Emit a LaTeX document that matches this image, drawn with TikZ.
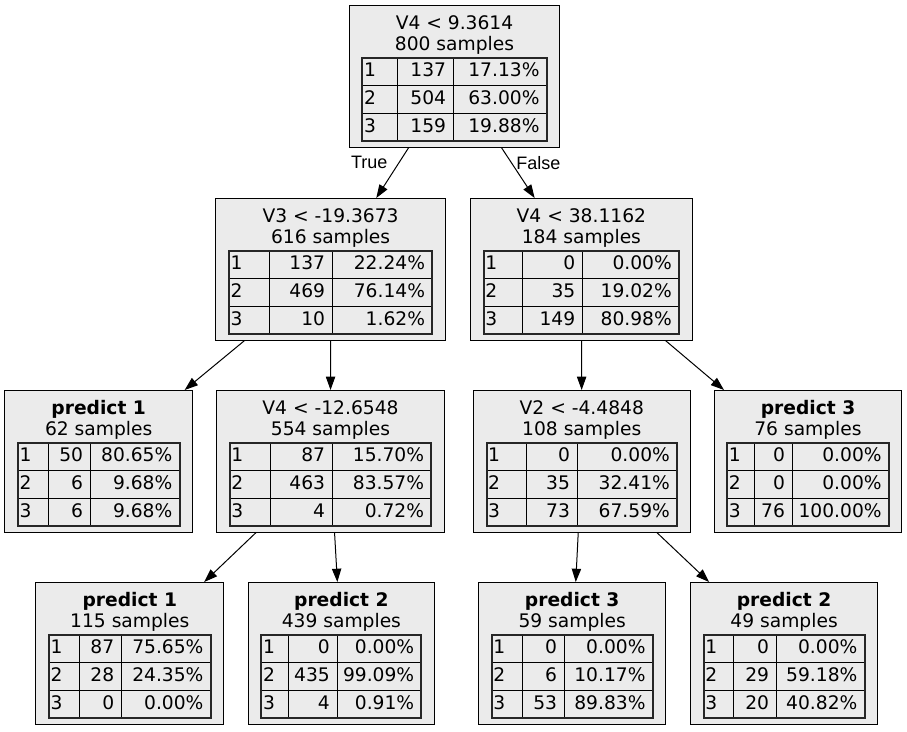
\documentclass[tikz,border=0pt]{standalone}
\usepackage{fontspec}
\setmainfont{DejaVu Sans}
\newfontfamily\edgefont{Liberation Sans}
\usetikzlibrary{arrows.meta}
\definecolor{boxfill}{HTML}{EBEBEB}

\tikzset{
  treebox/.style={draw=black, fill=boxfill, line width=1pt, inner sep=0pt, outer sep=0pt},
  celltext/.style={inner sep=0pt, font=\fontsize{18.67}{22}\selectfont},
  tabframe/.style={draw=black!85, line width=2pt},
  tabrule/.style={draw=black, line width=1pt},
  split/.style={draw=black, line width=1pt, -{Triangle[length=13.3pt,width=9.3pt]}},
  branchlabel/.style={inner sep=0pt, font=\edgefont\fontsize{18}{21}\selectfont}
}

% #1 name, #2 centre x, #3 top y, #4 test line, #5 sample count line,
% #6-#8 column widths of the class table, #9 rows class/count/share
\newcommand\dtnode[9]{%
  \pgfmathsetmacro\dtW{#6+#7+#8}%
  \pgfmathsetmacro\dtL{#2-\dtW/2}%
  \pgfmathsetmacro\dtA{\dtL+#6}%
  \pgfmathsetmacro\dtB{\dtA+#7}%
  \pgfmathsetmacro\dtR{\dtB+#8}%
  \pgfmathsetmacro\dtT{#3+52.5}%
  \pgfmathsetmacro\dtBot{\dtT+3*27.8}%
  \pgfmathsetmacro\dtBoxW{\dtW+26}%
  \node[treebox, minimum width=\dtBoxW pt, minimum height=142.5pt] (#1) at (#2,#3+71.25) {};
  \node[celltext, anchor=base] at (#2,#3+24) {#4};
  \node[celltext, anchor=base] at (#2,#3+45) {#5};
  \foreach \ca/\cb/\cc [count=\ci] in {#9} {
    \pgfmathsetmacro\dtY{\dtT+(\ci-1)*27.8+19}
    \node[celltext, anchor=base west] at (\dtL+1.5,\dtY) {\ca};
    \node[celltext, anchor=base east] at (\dtB-7,\dtY) {\cb};
    \node[celltext, anchor=base east] at (\dtR-7,\dtY) {\cc};
  }
  \draw[tabrule] (\dtA,\dtT) -- (\dtA,\dtBot) (\dtB,\dtT) -- (\dtB,\dtBot)
    (\dtL,\dtT+27.8) -- (\dtR,\dtT+27.8) (\dtL,\dtT+55.6) -- (\dtR,\dtT+55.6);
  \draw[tabframe] (\dtL,\dtT) rectangle (\dtR,\dtBot);
}

\begin{document}
\begin{tikzpicture}[x=1pt,y=-1pt]
\useasboundingbox (0,0) rectangle (907,731);

% level 0
\dtnode{root}{454.5}{5}{V4 < 9.3614}{800 samples}{35}{56}{93.4}
  {1/137/17.13\%,2/504/63.00\%,3/159/19.88\%}

% level 1
\dtnode{vthree}{330.6}{198}{V3 < -19.3673}{616 samples}{40.3}{63}{100}
  {1/137/22.24\%,2/469/76.14\%,3/10/1.62\%}
\dtnode{vfourhi}{581.4}{198}{V4 < 38.1162}{184 samples}{38.7}{60}{96.6}
  {1/0/0.00\%,2/35/19.02\%,3/149/80.98\%}

% level 2
\dtnode{leafa}{98.7}{390}{\bfseries predict 1}{62 samples}{31}{41.4}{89.3}
  {1/50/80.65\%,2/6/9.68\%,3/6/9.68\%}
\dtnode{vfourlo}{330.5}{390}{V4 < -12.6548}{554 samples}{40.3}{62.3}{99}
  {1/87/15.70\%,2/463/83.57\%,3/4/0.72\%}
\dtnode{vtwo}{581.8}{390}{V2 < -4.4848}{108 samples}{40}{50.6}{100}
  {1/0/0.00\%,2/35/32.41\%,3/73/67.59\%}
\dtnode{leafb}{808}{390}{\bfseries predict 3}{76 samples}{27}{38}{96.7}
  {1/0/0.00\%,2/0/0.00\%,3/76/100.00\%}

% level 3
\dtnode{leafc}{129.8}{582}{\bfseries predict 1}{115 samples}{30.7}{41.7}{89.3}
  {1/87/75.65\%,2/28/24.35\%,3/0/0.00\%}
\dtnode{leafd}{341.4}{582}{\bfseries predict 2}{439 samples}{26.6}{49}{84.4}
  {1/0/0.00\%,2/435/99.09\%,3/4/0.91\%}
\dtnode{leafe}{572.2}{582}{\bfseries predict 3}{59 samples}{30.6}{42}{88.4}
  {1/0/0.00\%,2/6/10.17\%,3/53/89.83\%}
\dtnode{leaff}{784.1}{582}{\bfseries predict 2}{49 samples}{30.3}{42.4}{88.3}
  {1/0/0.00\%,2/29/59.18\%,3/20/40.82\%}

% splits
\draw[split] (root) -- node[pos=0.3, branchlabel, left=11pt] {True} (vthree);
\draw[split] (root) -- node[pos=0.3, branchlabel, right=4.5pt] {False} (vfourhi);
\draw[split] (vthree) -- (leafa);
\draw[split] (vthree) -- (vfourlo);
\draw[split] (vfourhi) -- (vtwo);
\draw[split] (vfourhi) -- (leafb);
\draw[split] (vfourlo) -- (leafc);
\draw[split] (vfourlo) -- (leafd);
\draw[split] (vtwo) -- (leafe);
\draw[split] (vtwo) -- (leaff);
\end{tikzpicture}
\end{document}
